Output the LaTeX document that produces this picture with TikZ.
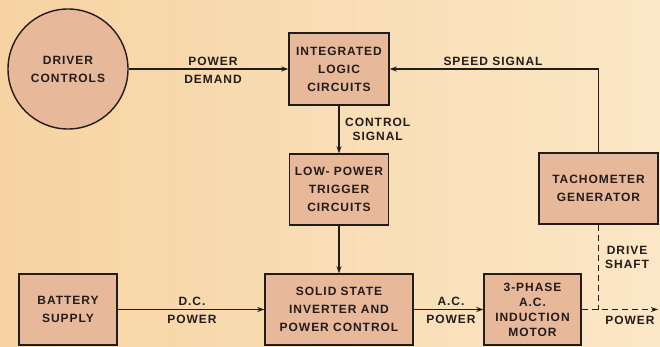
\documentclass[tikz,border=0pt]{standalone}
\usepackage{fontspec}
\setmainfont{Liberation Sans}[LetterSpace=8]
\usetikzlibrary{arrows.meta}
\definecolor{bgL}{HTML}{F7D3A2}
\definecolor{bgR}{HTML}{FBE7C6}
\definecolor{boxfill}{HTML}{E8B89A}
\definecolor{ink}{HTML}{231C1C}
\begin{document}
\begin{tikzpicture}[x=1pt,y=-1pt,
  every node/.style={font=\fontsize{12}{18}\selectfont\bfseries, text=ink},
  blk/.style={draw=ink, line width=1.4pt, fill=boxfill, align=center, inner sep=0pt},
  lbl/.style={align=center, inner sep=0pt},
  conn/.style={draw=ink, line width=1.3pt, -{Stealth[length=7pt,width=5pt]}},
  shaft/.style={draw=ink, line width=1.3pt, dash pattern=on 6pt off 4pt}]
\shade[left color=bgL, right color=bgR] (0,0) rectangle (660,347);
\useasboundingbox (0,0) rectangle (660,347);
\node[blk, circle, minimum size=120pt] (drv) at (68,69) {DRIVER\\CONTROLS};
\node[blk, minimum width=100pt, minimum height=72pt] (ilc) at (339,69) {INTEGRATED\\LOGIC\\CIRCUITS};
\node[blk, minimum width=99pt, minimum height=71pt] (lpt) at (339,189.5) {LOW- POWER\\TRIGGER\\CIRCUITS};
\node[blk, minimum width=148pt, minimum height=71pt] (inv) at (339,309.5) {SOLID STATE\\INVERTER AND\\POWER CONTROL};
\node[blk, minimum width=98pt, minimum height=71pt] (bat) at (68,309.5) {BATTERY\\SUPPLY};
\node[blk, minimum width=97pt, minimum height=71pt, font=\fontsize{12}{15}\selectfont\bfseries] (mot) at (532.5,309.5) {3-PHASE\\A.C.\\INDUCTION\\MOTOR};
\node[blk, minimum width=119pt, minimum height=71pt] (tac) at (598.5,188.5) {TACHOMETER\\GENERATOR};
\coordinate (out) at (658,309.5);
\coordinate (tee) at (tac.south |- mot.east);
% connectors
\draw[conn] (drv) -- (ilc);
\draw[conn] (tac.north) |- (ilc.east);
\draw[conn] (ilc) -- (lpt);
\draw[conn] (lpt) -- (inv);
\draw[conn] (bat) -- (inv);
\draw[conn] (inv) -- (mot);
\draw[shaft] (tac.south) -- (tee);
\draw[shaft, -{Stealth[length=7pt,width=5pt]}] (mot.east) -- (out);
% labels
\node[lbl] (pd) at (213,70) {POWER\\DEMAND};
\node[lbl] (ss) at (493,61) {SPEED SIGNAL};
\node[lbl, anchor=west, font=\fontsize{12}{14}\selectfont\bfseries] (cs) at (345,129.5) {CONTROL\\SIGNAL};
\node[lbl] (dc) at (192,310) {D.C.\\POWER};
\node[lbl] (ac) at (451,310) {A.C.\\POWER};
\node[lbl, anchor=west, font=\fontsize{12}{14}\selectfont\bfseries] (ds) at (605,257.5) {DRIVE\\SHAFT};
\node[lbl] (pw) at (630,320) {POWER};
\end{tikzpicture}
\end{document}
